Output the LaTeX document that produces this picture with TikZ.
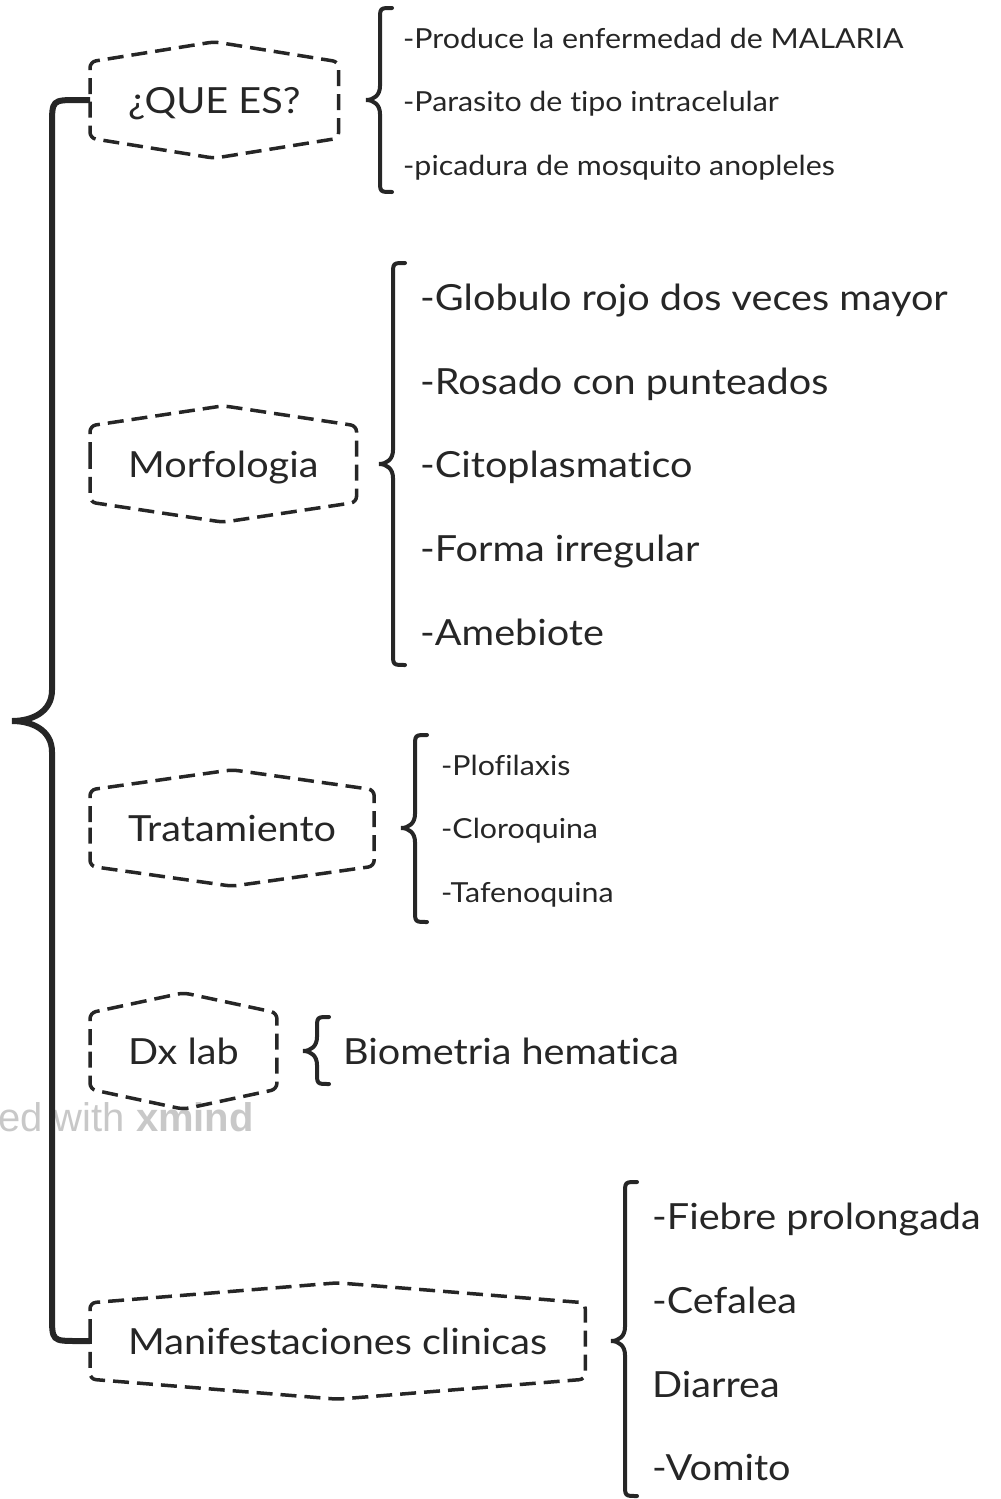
\documentclass[tikz,border=0pt]{standalone}
\usepackage{fontspec}
\setmainfont{Lato}[FakeStretch=1.10, Ligatures=NoCommon]
\newfontfamily\wmfont{Liberation Sans}
\usetikzlibrary{calc}
\definecolor{ink}{HTML}{262626}
\definecolor{wmark}{HTML}{C8C8C8}
\newcommand\hexb[1]{%
  \draw[hexline] (#1.west) -- (#1.north west) -- ([yshift=20pt]#1.north) -- (#1.north east) -- (#1.south east) -- ([yshift=-20pt]#1.south) -- (#1.south west) -- cycle;}
\newcommand\brc[4]{%
  \draw[brc] (#1+12,#2) .. controls (#1,#2) .. (#1,#2+12) -- (#1,#3-14) .. controls (#1,#3-5) and (#1-6,#3) .. (#1-14,#3) .. controls (#1-6,#3) and (#1,#3+5) .. (#1,#3+14) -- (#1,#4-12) .. controls (#1,#4) .. (#1+12,#4);}
\begin{document}
\begin{tikzpicture}[x=1pt,y=-1pt,
  topic/.style={anchor=west, inner xsep=38pt, inner ysep=0pt, minimum height=76pt, text height=26pt, text depth=0pt, font=\fontsize{36}{42}\selectfont, text=ink},
  bigt/.style={anchor=west, inner sep=0pt, text height=26pt, text depth=0pt, font=\fontsize{36}{42}\selectfont, text=ink},
  smallt/.style={anchor=west, inner sep=0pt, text height=20pt, text depth=0pt, font=\fontsize{27.6}{33}\selectfont, text=ink},
  hexline/.style={draw=ink, line width=3.5pt, dash pattern=on 16pt off 8pt, rounded corners=6pt},
  brc/.style={draw=ink, line width=4pt, line cap=round},
  bigbr/.style={draw=ink, line width=6pt}]
\useasboundingbox (0,0) rectangle (1001,1499);

% watermark
\node[anchor=base east, text=wmark, inner sep=0pt, font=\wmfont\fontsize{40}{46}\selectfont] (wm) at (254,1131) {ed with \textbf{xmind}};

% topics
\node[topic] (q) at (90,100) {¿QUE ES?};
\node[topic] (mo) at (90,464) {Morfologia};
\node[topic] (tr) at (90,828) {Tratamiento};
\node[topic] (dx) at (90,1051) {Dx lab};
\node[topic] (mc) at (90,1341) {Manifestaciones clinicas};
\hexb{q}\hexb{mo}\hexb{tr}\hexb{dx}\hexb{mc}

% main brace
\coordinate (tip) at (12,721);
\draw[bigbr] (q.west) -- (78,100) .. controls (52,100) .. (52,126) -- (52,690) .. controls (52,712) and (32,721) .. (tip) .. controls (32,721) and (52,730) .. (52,752) -- (52,1315) .. controls (52,1341) .. (78,1341) -- (mc.west);

% QUE ES
\brc{380}{8}{100}{192}
\node[smallt] (q1) at (403,38) {-Produce la enfermedad de MALARIA};
\node[smallt] (q2) at (403,101) {-Parasito de tipo intracelular};
\node[smallt] (q3) at (403,165) {-picadura de mosquito anopleles};

% Morfologia
\brc{393}{263}{464}{665}
\node[bigt] (m1) at (420,297) {-Globulo rojo dos veces mayor};
\node[bigt] (m2) at (420,381) {-Rosado con punteados};
\node[bigt] (m3) at (420,464) {-Citoplasmatico};
\node[bigt] (m4) at (420,548) {-Forma irregular};
\node[bigt] (m5) at (420,632) {-Amebiote};

% Tratamiento
\brc{415}{735}{828}{922}
\node[smallt] (t1) at (441,765) {-Plofilaxis};
\node[smallt] (t2) at (441,828) {-Cloroquina};
\node[smallt] (t3) at (441,892) {-Tafenoquina};

% Dx lab
\brc{317}{1017}{1051}{1084}
\node[bigt] (d1) at (343,1051) {Biometria hematica};

% Manifestaciones
\brc{625}{1182}{1341}{1496}
\node[bigt] (c1) at (652,1216) {-Fiebre prolongada};
\node[bigt] (c2) at (652,1300) {-Cefalea};
\node[bigt] (c3) at (652,1384) {Diarrea};
\node[bigt] (c4) at (652,1467) {-Vomito};
\end{tikzpicture}
\end{document}
